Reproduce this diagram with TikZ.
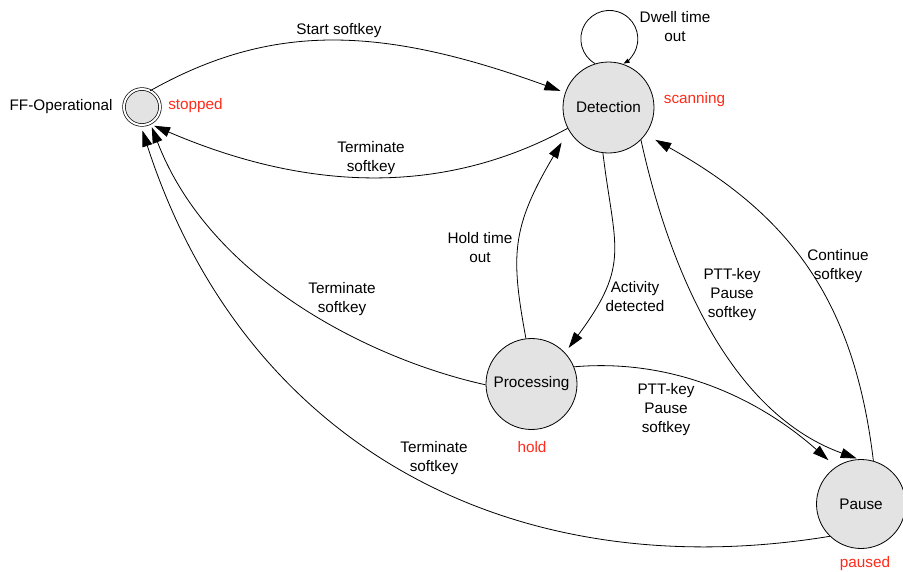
\documentclass[tikz,border=0pt]{standalone}
\usepackage{fontspec}
\setmainfont{Liberation Sans}
\usetikzlibrary{arrows.meta}
\definecolor{stategray}{HTML}{E3E3E3}
\definecolor{statusred}{HTML}{FF2A1A}
\begin{document}
\begin{tikzpicture}[x=1pt,y=1pt,
  every node/.style={font=\fontsize{15.3}{19}\selectfont},
  state/.style={circle,draw,fill=stategray,line width=0.8pt,minimum size=91pt,inner sep=0pt},
  initstate/.style={circle,draw,fill=stategray,line width=0.7pt,double,double distance=2pt,minimum size=36pt,inner sep=0pt},
  lbl/.style={align=center,inner sep=0pt},
  status/.style={text=statusred,inner sep=0pt},
  trans/.style={line width=0.8pt,-{Triangle[length=16pt,width=10pt]}},
  selftrans/.style={line width=0.8pt,-{Triangle[length=6pt,width=4.5pt]}},
  ]
\useasboundingbox (0,0) rectangle (903,-571);

% states
\node[initstate] (ff) at (142,-107) {};
\node[state] (det) at (608.5,-107.5) {Detection};
\node[state] (proc) at (531.5,-384) {Processing};
\node[state,minimum size=89pt] (pause) at (861,-504) {Pause};

% state names and status words
\node[lbl] (ffname) at (61,-107) {FF-Operational};
\node[status] (stopped) at (195.5,-106) {stopped};
\node[status] (scanning) at (694.5,-100) {scanning};
\node[status] (hold) at (532,-447) {hold};
\node[status] (paused) at (865,-564) {paused};

% transition labels
\node[lbl] (tStart) at (339,-31) {Start softkey};
\node[lbl] (tDwell) at (675,-27) {Dwell time\\out};
\node[lbl] (tTermD) at (371,-158) {Terminate\\softkey};
\node[lbl] (tHold) at (480,-247.5) {Hold time\\out};
\node[lbl] (tAct) at (635,-296.5) {Activity\\detected};
\node[lbl] (tPttD) at (732,-294.5) {PTT-key\\Pause\\softkey};
\node[lbl] (tCont) at (838,-266.5) {Continue\\softkey};
\node[lbl] (tTermP) at (342,-299.5) {Terminate\\softkey};
\node[lbl] (tPttP) at (666,-410) {PTT-key\\Pause\\softkey};
\node[lbl] (tTermS) at (434,-458) {Terminate\\softkey};

% transitions
\draw[trans,shorten >=5pt] (ff.63) .. controls (271,-23) and (379,-25) .. (det.161);
\draw[trans,shorten >=5pt] (det.207) .. controls (445.5,-195) and (309.9,-192.7) .. (ff.-66);
\draw[selftrans] (det.107) arc[start angle=240,end angle=-60,radius=28.5];
\draw[trans,shorten >=6pt] (det.263) .. controls (614.4,-247.7) and (631.1,-263.9) .. (proc.43.5);
\draw[trans,shorten >=14pt] (proc.97) .. controls (510.7,-255.6) and (510.9,-228.1) .. (det.210);
\draw[trans,shorten >=4pt] (proc.181) .. controls (376.7,-360.9) and (211.4,-282.6) .. (ff.-63);
\draw[trans,shorten >=5.5pt] (pause.226) .. controls (512.3,-588.5) and (244.5,-446.3) .. (ff.-94);
\draw[trans,shorten >=10pt] (proc.22) .. controls (665.8,-358.7) and (752.1,-392.7) .. (pause.124);
\draw[trans,shorten >=2pt] (det.-45) .. controls (665,-250) and (722,-410) .. (pause.93);
\draw[trans,shorten >=11pt] (pause.74) .. controls (854.7,-304.7) and (793.8,-216.9) .. (det.-36);
\end{tikzpicture}
\end{document}
